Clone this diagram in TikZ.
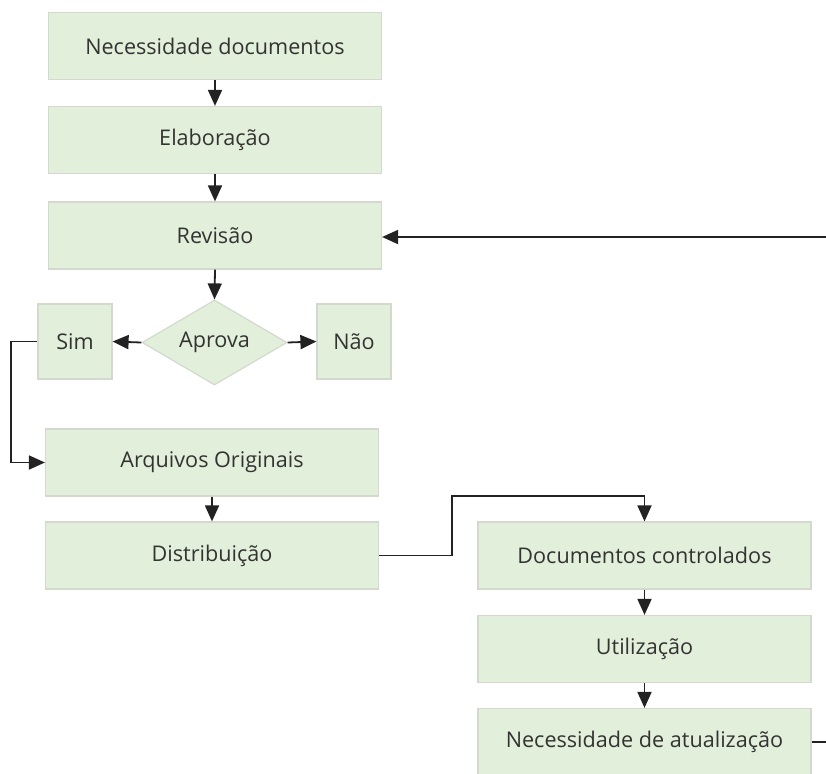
\documentclass[tikz,border=0pt]{standalone}
\usepackage{fontspec}
\setmainfont{Open Sans}
\usetikzlibrary{shapes.geometric,arrows.meta}
\definecolor{boxfill}{HTML}{E2EFDA}
\definecolor{boxline}{HTML}{D4D9D0}
\definecolor{txt}{HTML}{333333}
\definecolor{conn}{HTML}{222222}
\begin{document}
\begin{tikzpicture}[x=0.5pt,y=-0.5pt,
  font=\fontsize{10.8}{13}\selectfont,
  proc/.style={draw=boxline,fill=boxfill,line width=0.6pt,text=txt,inner sep=0pt,
    minimum width=166.5pt,minimum height=33.5pt},
  small/.style={proc,minimum width=37pt,minimum height=37.5pt},
  dec/.style={diamond,draw=boxline,fill=boxfill,line width=0.6pt,text=txt,inner sep=0pt,
    minimum width=72.5pt,minimum height=42.5pt,aspect=1.7},
  arr/.style={draw=conn,line width=0.9pt,-{Triangle[length=8pt,width=7pt]}},
  ln/.style={draw=conn,line width=0.9pt}]
\useasboundingbox (0,0) rectangle (826,773);
\node[proc] (nd) at (215,46) {Necessidade documentos};
\node[proc] (el) at (215,140) {Elaboração};
\node[proc] (rv) at (215,235.5) {Revisão};
\node[dec] (ap) at (214.5,342.5) {Aprova};
\node[small] (sim) at (75,341.5) {Sim};
\node[small] (nao) at (354,341.5) {Não};
\node[proc] (ao) at (212,462.5) {Arquivos Originais};
\node[proc] (di) at (212,555.5) {Distribuição};
\node[proc] (dc) at (644.5,555.5) {Documentos controlados};
\node[proc] (ut) at (644.5,649) {Utilização};
\node[proc] (na) at (644.5,742) {Necessidade de atualização};
\coordinate (rin) at (826,237);
\coordinate (rout) at (826,742);
\draw[arr] (nd) -- (el);
\draw[arr] (el) -- (rv);
\draw[arr] (rv.south) -- (ap.north);
\draw[arr] (ap.west) -- (sim.east);
\draw[arr] (ap.east) -- (nao.west);
\draw[arr] (sim.west) -- (11,341.5) |- (ao.west);
\draw[arr] (ao) -- (di);
\draw[arr] (di.east) -- (452,555.5) -- (452,496) -| (dc.north);
\draw[arr] (dc) -- (ut);
\draw[arr] (ut) -- (na);
\draw[arr] (rin) -- (rin -| rv.east);
\draw[ln] (na.east) -- (rout);
\end{tikzpicture}
\end{document}
